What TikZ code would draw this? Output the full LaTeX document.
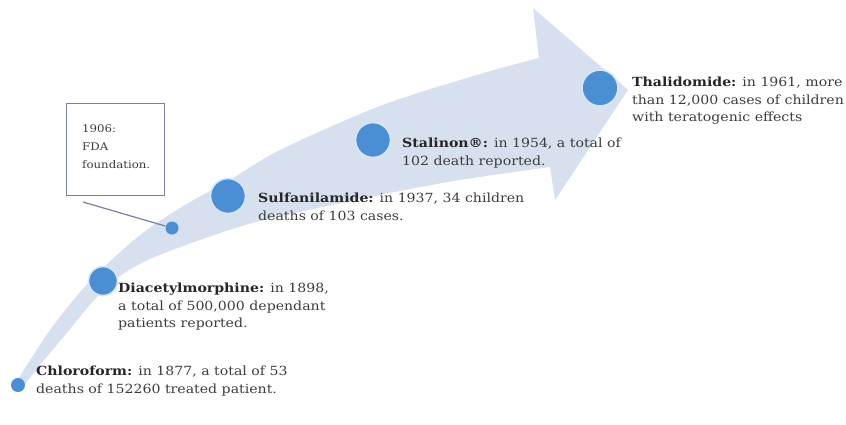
\documentclass[tikz,border=0pt]{standalone}
\usepackage{fontspec}
\setmainfont{DejaVu Serif}[FakeStretch=1.12]
\definecolor{bandblue}{RGB}{214,224,238}
\definecolor{dotblue}{RGB}{74,142,212}
\definecolor{ringblue}{RGB}{214,230,246}
\definecolor{boxline}{RGB}{120,130,160}
\definecolor{txt}{RGB}{60,60,60}
\tikzset{
  dot/.style={circle, fill=dotblue, draw=ringblue, line width=1.6pt, inner sep=0pt, minimum size=#1},
  lbl/.style={anchor=north west, inner sep=0pt, align=left, text=txt,
    font=\fontsize{12.6}{17.4}\selectfont}
}
\newcommand{\nmb}[1]{\textbf{\textcolor{black!85}{#1}}}
\begin{document}
\begin{tikzpicture}[x=1pt,y=-1pt]
\useasboundingbox (0,0) rectangle (846,424);
% curved arrow band
\fill[bandblue]
  plot[smooth] coordinates {(17,381) (50,330) (90,281) (140,235) (185,205) (230,180) (280,150) (380,106) (480,74) (539,58)}
  -- (533,8) -- (628,90) -- (555,200) -- (550,167)
  -- plot[smooth] coordinates {(550,167) (460,180) (380,195) (260,221) (200,240) (150,259) (120,276) (95,299) (70,329) (40,365) (22,388)}
  -- cycle;
% FDA box and connector
\node[draw=boxline, line width=1pt, minimum width=98pt, minimum height=92pt, anchor=north west, inner sep=0pt] (fdabox) at (66,103) {};
\node[anchor=north west, inner sep=0pt, align=left, text=txt, font=\fontsize{10.5}{18}\selectfont] (fdatext) at (82,125) {1906:\\FDA\\foundation.};
\coordinate (fdaend) at (83,202);
\node[dot=13pt, draw=none] (d1906) at (172,228) {};
\draw[boxline, line width=1.2pt] (fdaend) -- (d1906);
% dots
\node[dot=14pt, draw=none] (d1877) at (18,385) {};
\node[dot=29pt] (d1898) at (103,281) {};
\node[dot=35pt] (d1937) at (228,196) {};
\node[dot=35pt] (d1954) at (373,140) {};
\node[dot=36pt] (d1961) at (600,88) {};
% labels
\node[lbl] (t1877) at (36,366) {\nmb{Chloroform:} in 1877, a total of 53\\deaths of 152260 treated patient.};
\node[lbl] (t1898) at (118,283) {\nmb{Diacetylmorphine:} in 1898,\\a total of 500,000 dependant\\patients reported.};
\node[lbl] (t1937) at (258,193) {\nmb{Sulfanilamide:} in 1937, 34 children\\deaths of 103 cases.};
\node[lbl] (t1954) at (402,138) {\nmb{Stalinon®:} in 1954, a total of\\102 death reported.};
\node[lbl] (t1961) at (632,77) {\nmb{Thalidomide:} in 1961, more\\than 12,000 cases of children\\with teratogenic effects};
\end{tikzpicture}
\end{document}
